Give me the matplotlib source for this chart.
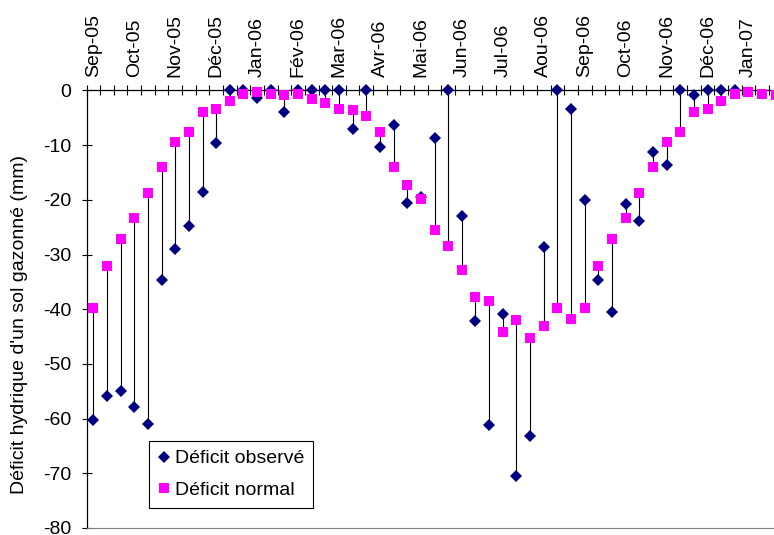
import matplotlib
matplotlib.use("Agg")
import matplotlib.pyplot as plt
import numpy as np

plt.rcParams['font.family'] = ['Liberation Sans', 'DejaVu Sans']

# 10-day periods (decades) starting Sep 2005
month_labels = ['Sep-05', 'Oct-05', 'Nov-05', 'Déc-05', 'Jan-06', 'Fév-06',
                'Mar-06', 'Avr-06', 'Mai-06', 'Jun-06', 'Jul-06', 'Aou-06',
                'Sep-06', 'Oct-06', 'Nov-06', 'Déc-06', 'Jan-07']

deficit_normal = [-39.7, -32.1, -27.2, -23.3, -18.7, -14.0, -9.5, -7.5, -3.9, -3.3,
                  -1.9, -0.6, -0.2, -0.6, -0.9, -0.6, -1.6, -2.3, -3.3, -3.6,
                  -4.6, -7.5, -14.0, -17.3, -19.9, -25.6, -28.5, -32.8, -37.7, -38.4,
                  -44.2, -42.0, -45.3, -43.0, -39.7, -41.7, -39.7, -32.1, -27.2, -23.3,
                  -18.7, -14.0, -9.5, -7.5, -3.9, -3.3, -1.9, -0.6, -0.2, -0.6, -0.9]

deficit_observe = [-60.2, -55.9, -55.0, -57.9, -60.9, -34.6, -29.0, -24.7, -18.6, -9.6,
                   0.0, 0.0, -1.4, 0.0, -4.0, 0.0, 0.0, 0.0, 0.0, -7.0,
                   0.0, -10.3, -6.3, -20.5, -19.5, -8.7, 0.0, -23.0, -42.1, -61.2,
                   -40.8, -70.4, -63.2, -28.6, 0.0, -3.4, -20.1, -34.6, -40.5, -20.8,
                   -23.8, -11.2, -13.6, 0.0, -0.8, 0.0, 0.0, 0.0]

y_ticks = [0, -10, -20, -30, -40, -50, -60, -70, -80]

W, H = 774, 535
fig = plt.figure(figsize=(W / 100, H / 100), dpi=100)
left_px, right_px, top_px, bot_px = 86.5, 782.6, 90.5, 528.0
ax = fig.add_axes([left_px / W, 1 - bot_px / H, (right_px - left_px) / W, (bot_px - top_px) / H])

xn = np.arange(len(deficit_normal))
xo = np.arange(len(deficit_observe))
obs = np.array(deficit_observe)
nor = np.array(deficit_normal[:len(obs)])

# high-low lines
ax.vlines(xo, np.minimum(obs, nor), np.maximum(obs, nor), colors='black', linewidth=0.8, zorder=2)

ax.plot(xo, obs, linestyle='none', marker='D', markersize=6.3, color='#000080',
        markeredgewidth=0, label='Déficit observé', zorder=3, clip_on=False)
ax.plot(xn, deficit_normal, linestyle='none', marker='s', markersize=7.4, color='#FF00FF',
        markeredgewidth=0, label='Déficit normal', zorder=4, clip_on=False)

ax.set_xlim(-0.5, 50.5)
ax.set_ylim(-80, 0)

# x axis on top
ax.xaxis.tick_top()
ax.set_xticks(np.arange(0, 3 * len(month_labels), 3))
ax.set_xticklabels(month_labels, rotation=90, fontsize=14)
ax.set_xticks(np.arange(-0.5, 51, 1), minor=True)
ax.tick_params(axis='x', which='major', length=0, pad=10)
ax.tick_params(axis='x', which='minor', direction='inout', length=6.5, width=0.8, color='black')

ax.set_yticks(y_ticks)
ax.set_yticklabels([str(v) for v in y_ticks], fontsize=14)
ax.tick_params(axis='y', which='major', direction='inout', length=7.2, width=0.8, pad=7.4)

for s in ['top', 'left']:
    ax.spines[s].set_color('black')
    ax.spines[s].set_linewidth(0.9)
ax.spines['bottom'].set_color('#808080')
ax.spines['bottom'].set_linewidth(0.8)
ax.spines['right'].set_visible(False)

fig.text(20 / W, 1 - 324 / H, "Déficit hydrique d'un sol gazonné (mm)", rotation=90,
         ha='center', va='center', fontsize=14)

leg = ax.legend(loc='upper left', bbox_to_anchor=(149 / W, 1 - 441 / H),
                bbox_transform=fig.transFigure, fontsize=14, frameon=True, fancybox=False,
                edgecolor='black', framealpha=1, borderpad=0.45, handlelength=0.6,
                handletextpad=0.3, labelspacing=0.72, borderaxespad=0, numpoints=1)
leg.get_frame().set_linewidth(0.8)

fig.savefig('out.png', dpi=100)
